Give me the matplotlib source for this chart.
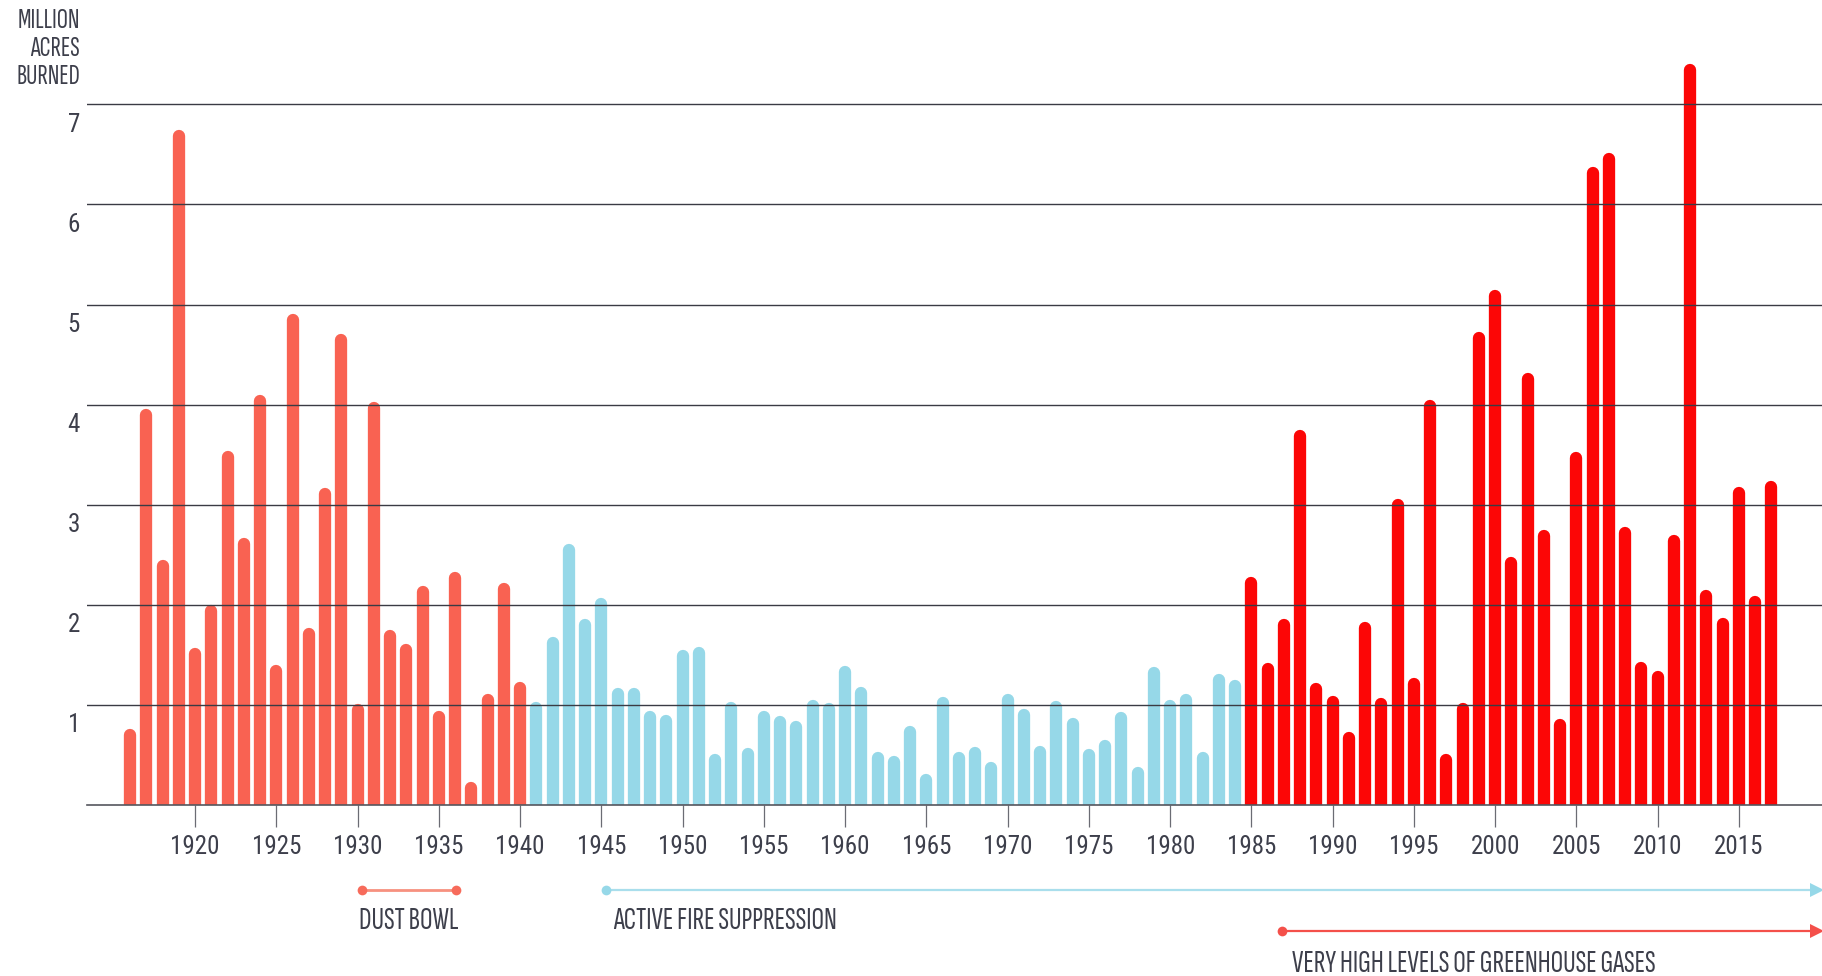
import matplotlib
matplotlib.use("Agg")
import matplotlib.pyplot as plt
import matplotlib.transforms as mtransforms
import numpy as np

# ---------------- data ----------------
years = list(range(1916, 2018))
acres = [
    # 1916-1940
    0.76, 3.96, 2.45, 6.74, 1.57, 2.00, 3.54, 2.67, 4.10, 1.40,
    4.91, 1.77, 3.17, 4.71, 1.01, 4.03, 1.75, 1.61, 2.19, 0.94,
    2.33, 0.23, 1.11, 2.22, 1.23,
    # 1941-1984
    1.03, 1.68, 2.61, 1.86, 2.07, 1.17, 1.17, 0.94, 0.90, 1.55,
    1.58, 0.51, 1.03, 0.57, 0.94, 0.89, 0.84, 1.05, 1.02, 1.39,
    1.18, 0.53, 0.49, 0.79, 0.31, 1.08, 0.53, 0.58, 0.43, 1.11,
    0.96, 0.59, 1.04, 0.87, 0.56, 0.65, 0.93, 0.38, 1.38, 1.05,
    1.11, 0.53, 1.31, 1.25,
    # 1985-2017
    2.28, 1.42, 1.86, 3.75, 1.22, 1.09, 0.73, 1.83, 1.07, 3.06,
    1.27, 4.05, 0.51, 1.02, 4.73, 5.15, 2.48, 4.32, 2.75, 0.86,
    3.53, 6.38, 6.51, 2.78, 1.43, 1.34, 2.70, 7.40, 2.15, 1.87,
    3.18, 2.09, 3.24,
]

era_starts = [1916, 1941, 1985]
era_colors = ["#F96252", "#96D8E8", "#FC0606"]

y_ticks = [1, 2, 3, 4, 5, 6, 7]
x_ticks = list(range(1920, 2016, 5))
y_title = ["MILLION", "ACRES", "BURNED"]

periods = ["DUST BOWL", "ACTIVE FIRE SUPPRESSION", "VERY HIGH LEVELS OF GREENHOUSE GASES"]
period_start = [1930.25, 1945.26, 1986.88]
period_end = [1936.03, None, None]          # None -> arrow to right edge
period_text_x = [1930.10, 1945.69, 1987.50]
period_line_colors = ["#F7917F", "#A9DEEC", "#F4504A"]
period_dot_colors = ["#F76B5B", "#96D8E8", "#F4504A"]

# ---------------- style ----------------
FONT = ["Sofia Sans Extra Condensed", "Barlow Condensed", "DejaVu Sans"]
DIGIT_FONT = ["Roboto Condensed", "Barlow Condensed", "DejaVu Sans"]
TXT = "#3d3f4b"
FS_TICK = 18
FS_LEG = 22.5
FS_TITLE = 20
plt.rcParams["font.family"] = FONT

W, H, DPI = 1822, 976, 100
fig = plt.figure(figsize=(W / DPI, H / DPI), dpi=DPI)

ax_left_px, ax_right_px = 87, 1822
base_px = 805
unit_px = 100.1
ymax = 7.6
ax_h_px = ymax * unit_px
ax = fig.add_axes([ax_left_px / W, (H - base_px) / H,
                   (ax_right_px - ax_left_px) / W, ax_h_px / H])

px_per_year = 16.25
x0 = 1920 - (195.2 - ax_left_px) / px_per_year
x1 = 1920 + (ax_right_px - 195.2) / px_per_year
ax.set_xlim(x0, x1)
ax.set_ylim(0, ymax)

for s in ax.spines.values():
    s.set_visible(False)

# bars (rounded tops)
bar_px = 12.3
lw_pt = bar_px * 72 / DPI
r_data = (bar_px / 2) / unit_px
colors = []
for y in years:
    c = era_colors[0]
    for st, col in zip(era_starts, era_colors):
        if y >= st:
            c = col
    colors.append(c)
vals = np.array(acres)
ax.vlines(years, 0, vals - r_data, colors=colors, linewidth=lw_pt,
          capstyle="round", zorder=2)

# grid lines over bars
for t in y_ticks:
    ax.axhline(t, color="#3a3b44", linewidth=1.0, zorder=3)
ax.axhline(0, color="#55565e", linewidth=1.2, zorder=3, clip_on=False)

# y labels (baseline ~27.5 px below each grid line)
ytrans = mtransforms.blended_transform_factory(ax.transAxes, ax.transData)
lab_off = 27.5 / unit_px
for t in y_ticks:
    ax.text(-7 / (ax_right_px - ax_left_px), t - lab_off, str(t),
            transform=ytrans, ha="right", va="baseline", fontsize=FS_TICK,
            color=TXT, family=DIGIT_FONT)
ax.set_yticks([])

title_baselines_px = [28.5, 56.0, 83.5]
for line, bl in zip(y_title, title_baselines_px):
    fig.text(80 / W, 1 - bl / H, line, ha="right", va="baseline",
             fontsize=FS_TITLE, color=TXT)

# x ticks
tick_len_px = 22
label_baseline_px = 853.5
ax.set_xticks(x_ticks)
ax.set_xticklabels([str(v) for v in x_ticks])
ax.tick_params(axis="x", length=tick_len_px * 72 / DPI, width=0.9,
               color="#6b6c74",
               pad=(label_baseline_px - base_px - tick_len_px) * 72 / DPI,
               labelsize=FS_TICK, labelcolor=TXT)
for lbl in ax.get_xticklabels():
    lbl.set_verticalalignment("baseline")
    lbl.set_family(DIGIT_FONT)

# period annotations
line_y_px = [889.7, 889.7, 931.3]
text_baseline_px = [929.3, 929.3, 971.7]
for name, xs, xe, tx, lc, dc, ly, tb in zip(periods, period_start, period_end,
                                             period_text_x,
                                             period_line_colors, period_dot_colors,
                                             line_y_px, text_baseline_px):
    yd = (base_px - ly) / unit_px
    td = (base_px - tb) / unit_px
    if xe is None:
        xend = x1 - 0.28
        ax.plot([xs, xend], [yd, yd], color=lc, linewidth=1.6, clip_on=False,
                zorder=4)
        ax.plot([xend], [yd], marker=">", markersize=9.5, color=dc,
                markeredgewidth=0, clip_on=False, zorder=5)
        ax.plot([xs], [yd], marker="o", markersize=7, color=dc,
                markeredgewidth=0, clip_on=False, zorder=5)
    else:
        ax.plot([xs, xe], [yd, yd], color=lc, linewidth=2.0, clip_on=False,
                zorder=4)
        ax.plot([xs, xe], [yd, yd], marker="o", markersize=7, color=dc,
                linestyle="none", markeredgewidth=0, clip_on=False, zorder=5)
    ax.text(tx, td, name, ha="left", va="baseline", fontsize=FS_LEG,
            color=TXT, clip_on=False)

fig.savefig("out.png", dpi=DPI)
